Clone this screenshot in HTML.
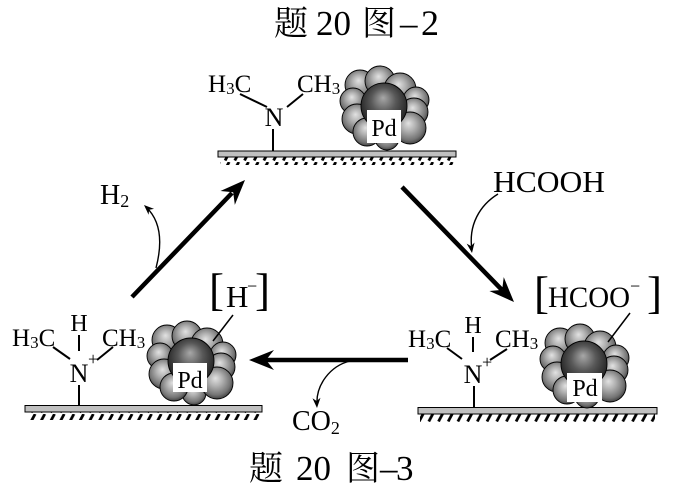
<!DOCTYPE html>
<html><head><meta charset="utf-8"><style>
html,body{margin:0;padding:0;background:#fff;}
svg{display:block;}
text{font-family:"Liberation Serif","Noto Serif CJK SC",serif;fill:#000;}
</style></head><body>
<svg width="679" height="487" viewBox="0 0 679 487" xmlns="http://www.w3.org/2000/svg">
<defs>
<radialGradient id="gs" cx="0.48" cy="0.45" r="0.6" fx="0.45" fy="0.35">
<stop offset="0" stop-color="#e2e2e2"/><stop offset="0.35" stop-color="#b2b2b2"/><stop offset="0.75" stop-color="#747474"/><stop offset="1" stop-color="#2e2e2e"/>
</radialGradient>
<radialGradient id="gc" cx="0.5" cy="0.45" r="0.6" fx="0.48" fy="0.32">
<stop offset="0" stop-color="#a8a8a8"/><stop offset="0.45" stop-color="#585858"/><stop offset="1" stop-color="#181818"/>
</radialGradient>
<pattern id="hatch" width="9.7" height="9" patternUnits="userSpaceOnUse">
<line x1="6" y1="0" x2="2" y2="7.5" stroke="#000" stroke-width="2.8"/>
</pattern>
<g id="cl" stroke="#000" stroke-width="0.9">
<circle cx="-25" cy="-24" r="15" fill="url(#gs)"/>
<circle cx="-5" cy="-28" r="15" fill="url(#gs)"/>
<circle cx="15" cy="-20" r="16" fill="url(#gs)"/>
<circle cx="31" cy="-9" r="13" fill="url(#gs)"/>
<circle cx="-32" cy="-8" r="13" fill="url(#gs)"/>
<circle cx="29" cy="3" r="14" fill="url(#gs)"/>
<circle cx="-28" cy="10" r="15" fill="url(#gs)"/>
<circle cx="2" cy="29" r="12" fill="url(#gs)"/>
<circle cx="-18" cy="23" r="14" fill="url(#gs)"/>
<circle cx="25" cy="19" r="16" fill="url(#gs)"/>
<circle cx="-1" cy="-3" r="23" fill="url(#gc)"/>
</g>
</defs>

<!-- Titles -->
<text x="274" y="35" font-size="34">题</text>
<text x="316" y="35" font-size="35">20</text>
<text x="362" y="35" font-size="34">图</text>
<text x="400" y="35" font-size="35">–</text>
<text x="421" y="35" font-size="36">2</text>

<text x="249" y="480" font-size="34">题</text>
<text x="296" y="480" font-size="35">20</text>
<text x="346" y="480" font-size="34">图</text>
<text x="380" y="480" font-size="35">–</text>
<text x="396" y="480" font-size="35">3</text>

<!-- TOP structure -->
<rect x="218" y="151" width="238" height="6" fill="#c0c0c0" stroke="#000" stroke-width="1"/>
<rect x="220" y="157.5" width="234" height="7.5" fill="url(#hatch)"/>
<text x="208" y="92" font-size="25">H<tspan font-size="17" dy="2">3</tspan><tspan dy="-2">C</tspan></text>
<text x="297" y="92" font-size="25">CH<tspan font-size="17" dy="2">3</tspan></text>
<text x="274" y="126" font-size="26" text-anchor="middle">N</text>
<line x1="240" y1="94" x2="267" y2="107" stroke="#000" stroke-width="2"/>
<line x1="287" y1="107" x2="303" y2="94" stroke="#000" stroke-width="2"/>
<line x1="273" y1="129" x2="273" y2="151" stroke="#000" stroke-width="2"/>
<use href="#cl" transform="translate(385,109)"/>
<rect x="367" y="110" width="34" height="33" fill="#fff"/>
<text x="384" y="136" font-size="24" text-anchor="middle">Pd</text>

<!-- BOTTOM LEFT structure -->
<rect x="25" y="405.5" width="237" height="6.5" fill="#c0c0c0" stroke="#000" stroke-width="1"/>
<rect x="27" y="412.5" width="233" height="7.5" fill="url(#hatch)"/>
<text x="12" y="346" font-size="25">H<tspan font-size="17" dy="2">3</tspan><tspan dy="-2">C</tspan></text>
<text x="102" y="346" font-size="25">CH<tspan font-size="17" dy="2">3</tspan></text>
<text x="79" y="331" font-size="24" text-anchor="middle">H</text>
<line x1="79" y1="335" x2="79" y2="351" stroke="#000" stroke-width="2"/>
<text x="79" y="382" font-size="26" text-anchor="middle">N</text>
<text x="88" y="365" font-size="18">+</text>
<line x1="53" y1="347" x2="70" y2="359" stroke="#000" stroke-width="2"/>
<line x1="97" y1="360" x2="113" y2="347" stroke="#000" stroke-width="2"/>
<line x1="79" y1="385" x2="79" y2="406" stroke="#000" stroke-width="2"/>
<use href="#cl" transform="translate(192,364)"/>
<rect x="173" y="363" width="34" height="29" fill="#fff"/>
<text x="190" y="388" font-size="24" text-anchor="middle">Pd</text>
<text x="209" y="305" font-size="45">[</text>
<text x="226" y="307" font-size="31">H</text>
<text x="247" y="292" font-size="18">−</text>
<text x="255" y="305" font-size="45">]</text>
<line x1="233" y1="315" x2="213" y2="341" stroke="#000" stroke-width="1.5"/>

<!-- BOTTOM RIGHT structure -->
<rect x="418" y="407.5" width="239" height="6.5" fill="#c0c0c0" stroke="#000" stroke-width="1"/>
<rect x="420" y="414.5" width="235" height="7.5" fill="url(#hatch)"/>
<text x="408" y="347" font-size="25">H<tspan font-size="17" dy="2">3</tspan><tspan dy="-2">C</tspan></text>
<text x="495" y="347" font-size="25">CH<tspan font-size="17" dy="2">3</tspan></text>
<text x="473" y="333" font-size="24" text-anchor="middle">H</text>
<line x1="473" y1="337" x2="473" y2="352" stroke="#000" stroke-width="2"/>
<text x="473" y="383" font-size="26" text-anchor="middle">N</text>
<text x="482" y="368" font-size="18">+</text>
<line x1="447" y1="348" x2="462" y2="359" stroke="#000" stroke-width="2"/>
<line x1="490" y1="360" x2="507" y2="349" stroke="#000" stroke-width="2"/>
<line x1="474" y1="386" x2="474" y2="408" stroke="#000" stroke-width="2"/>
<use href="#cl" transform="translate(585,367)"/>
<rect x="567" y="373" width="35" height="29" fill="#fff"/>
<text x="585" y="396" font-size="24" text-anchor="middle">Pd</text>
<text x="534" y="308" font-size="45">[</text>
<text x="548" y="307" font-size="30" textLength="82" lengthAdjust="spacingAndGlyphs">HCOO</text>
<text x="630" y="292" font-size="18">−</text>
<text x="647" y="308" font-size="45">]</text>
<line x1="630" y1="313" x2="608" y2="342" stroke="#000" stroke-width="1.5"/>

<!-- Thick arrows -->
<line x1="132" y1="297" x2="232" y2="193" stroke="#000" stroke-width="4.5"/>
<path d="M0,0 L-25,-10 L-17,0 L-25,10 Z" fill="#000" transform="translate(245,180) rotate(-46)"/>

<line x1="402" y1="187" x2="502" y2="290" stroke="#000" stroke-width="4.5"/>
<path d="M0,0 L-25,-10 L-17,0 L-25,10 Z" fill="#000" transform="translate(514,302) rotate(45.8)"/>

<line x1="408" y1="360" x2="266" y2="360" stroke="#000" stroke-width="4.5"/>
<path d="M0,0 L-25,-10 L-17,0 L-25,10 Z" fill="#000" transform="translate(249,360) rotate(180)"/>

<!-- Thin curved arrows -->
<path d="M156,268 C162,245 162,222 146,207" fill="none" stroke="#000" stroke-width="1.4"/>
<path d="M0,0 L-10,-4 L-7,0 L-10,4 Z" fill="#000" transform="translate(144,205) rotate(-137)"/>
<text x="100" y="204" font-size="28">H<tspan font-size="18" dy="3">2</tspan></text>

<path d="M498,194 C480,205 468,225 472,250" fill="none" stroke="#000" stroke-width="1.4"/>
<path d="M0,0 L-10,-4 L-7,0 L-10,4 Z" fill="#000" transform="translate(472,253) rotate(82)"/>
<text x="493" y="192" font-size="31" textLength="112" lengthAdjust="spacingAndGlyphs">HCOOH</text>

<path d="M350,361 C330,366 316,385 317,404" fill="none" stroke="#000" stroke-width="1.4"/>
<path d="M0,0 L-10,-4 L-7,0 L-10,4 Z" fill="#000" transform="translate(317,408) rotate(87)"/>
<text x="292" y="430" font-size="28">CO<tspan font-size="18" dy="4">2</tspan></text>
</svg>
</body></html>
